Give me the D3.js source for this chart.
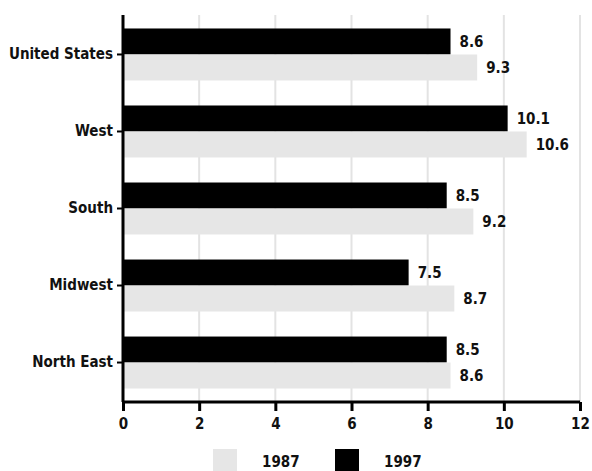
<!DOCTYPE html>
<html>
<head>
<meta charset="utf-8">
<script src="https://cdn.jsdelivr.net/npm/d3@7"></script>
<style>
  body { margin: 0; background: #fff; }
  text { font-family: "DejaVu Sans Condensed", "DejaVu Sans", sans-serif; font-weight: bold; }
</style>
</head>
<body>
<script>
const regions = ['United States', 'West', 'South', 'Midwest', 'North East'];
const values1997 = [8.6, 10.1, 8.5, 7.5, 8.5];
const values1987 = [9.3, 10.6, 9.2, 8.7, 8.6];
const years = ['1997', '1987'];
const xTicks = [0, 2, 4, 6, 8, 10, 12];

const W = 592, H = 471;
const m = { top: 15, right: 12, bottom: 69, left: 123 };
const iw = W - m.left - m.right;
const ih = H - m.top - m.bottom;
const fs = 15;

const colors = { '1987': '#e6e6e6', '1997': '#000000' };

const svg = d3.select('body').append('svg')
    .attr('width', W)
    .attr('height', H);

const g = svg.append('g').attr('transform', `translate(${m.left},${m.top})`);

const x = d3.scaleLinear().domain([0, 12]).range([0, iw]);
const y = d3.scaleBand().domain(regions).range([0, ih]).paddingInner(0.325).paddingOuter(0.175);
const yInner = d3.scaleBand().domain(years).range([0, y.bandwidth()]);

// grid
g.append('g')
  .selectAll('line')
  .data(xTicks.slice(1))
  .join('line')
  .attr('x1', d => x(d)).attr('x2', d => x(d))
  .attr('y1', 0).attr('y2', ih)
  .attr('stroke', '#e3e3e3')
  .attr('stroke-width', 2);

// bars
const rows = regions.map((r, i) => ({ r, vals: [['1997', values1997[i]], ['1987', values1987[i]]] }));
const grp = g.append('g').selectAll('g')
  .data(rows)
  .join('g')
  .attr('transform', d => `translate(0,${y(d.r)})`);

grp.selectAll('rect')
  .data(d => d.vals)
  .join('rect')
  .attr('x', 0)
  .attr('y', d => yInner(d[0]))
  .attr('width', d => x(d[1]))
  .attr('height', yInner.bandwidth())
  .attr('fill', d => colors[d[0]]);

grp.selectAll('text')
  .data(d => d.vals)
  .join('text')
  .attr('x', d => x(d[1]) + 9)
  .attr('y', d => yInner(d[0]) + yInner.bandwidth() / 2)
  .attr('dy', '0.38em')
  .attr('font-size', fs)
  .attr('fill', '#111')
  .text(d => d[1].toFixed(1));

// axes
const xAxis = g.append('g')
  .attr('transform', `translate(0,${ih})`)
  .call(d3.axisBottom(x).tickValues(xTicks).tickSize(9).tickPadding(7).tickFormat(d3.format('d')));
xAxis.select('.domain').attr('stroke', '#000').attr('stroke-width', 3).attr('d', `M0,0H${iw}`);
xAxis.selectAll('.tick line').attr('stroke', '#000').attr('stroke-width', 3);
xAxis.selectAll('.tick text').attr('font-size', fs).attr('fill', '#111')
  .style('font-family', '"DejaVu Sans Condensed", sans-serif').style('font-weight', 'bold');

const yAxis = g.append('g')
  .call(d3.axisLeft(y).tickSize(6).tickPadding(4));
yAxis.select('.domain').attr('stroke', '#000').attr('stroke-width', 3).attr('d', `M0,0V${ih}`);
yAxis.selectAll('.tick line').attr('stroke', '#000').attr('stroke-width', 2);
yAxis.selectAll('.tick text').attr('font-size', fs).attr('fill', '#111')
  .style('font-family', '"DejaVu Sans Condensed", sans-serif').style('font-weight', 'bold');

// legend
const legend = svg.append('g').attr('transform', `translate(213,449)`);
const legItems = [['1987', 0], ['1997', 122]];
const li = legend.selectAll('g').data(legItems).join('g')
  .attr('transform', d => `translate(${d[1]},0)`);
li.append('rect')
  .attr('width', 24).attr('height', 24)
  .attr('fill', d => colors[d[0]]);
li.append('text')
  .attr('x', 49).attr('y', 13).attr('dy', '0.35em')
  .attr('font-size', fs).attr('fill', '#111')
  .text(d => d[0]);
</script>
</body>
</html>
